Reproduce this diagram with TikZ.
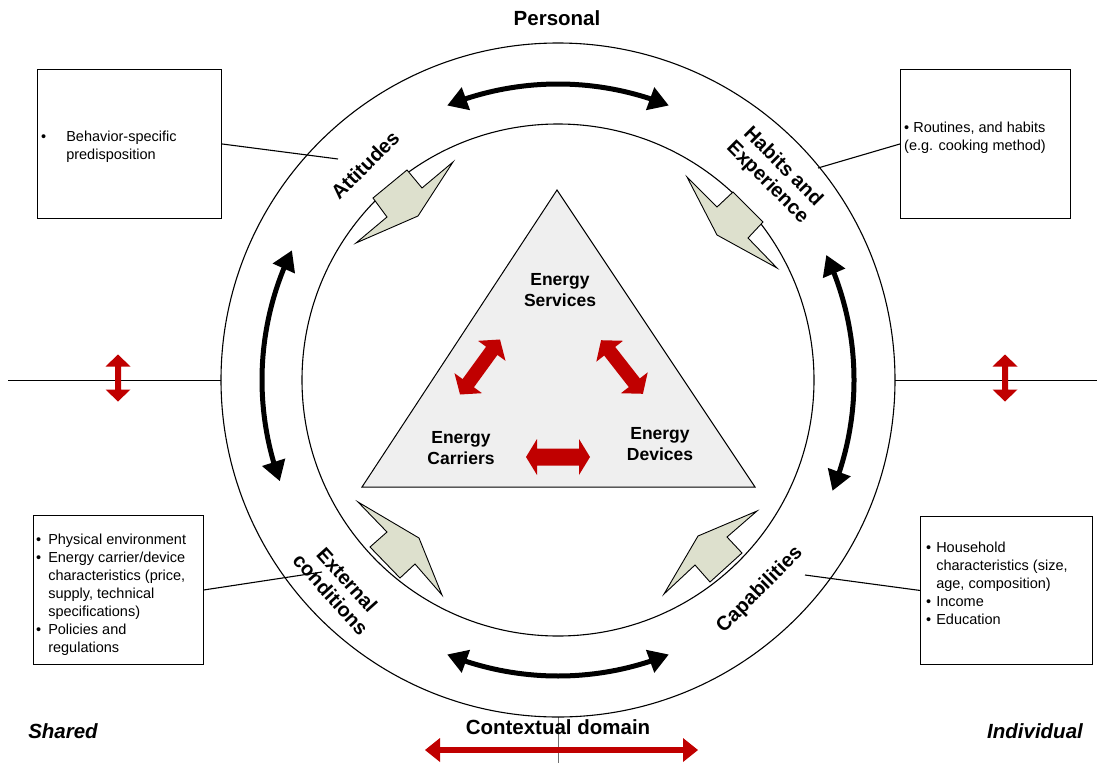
\documentclass[tikz,border=0pt]{standalone}
\usepackage{fontspec}
\setmainfont{Liberation Sans}
\usetikzlibrary{arrows.meta,bending}

\definecolor{arrowred}{HTML}{C00000}
\definecolor{boltfill}{HTML}{DDE0CD}
\definecolor{trifill}{HTML}{EFEFEF}
\definecolor{axisgray}{HTML}{707070}

% block double arrow: position, angle, half length, half shaft, half head, head length
\newcommand\redarrow[6]{%
  \begin{scope}[shift={#1}, rotate=#2]
    \fill[arrowred] (-#3,0) -- (-#3+#6,#5) -- (-#3+#6,#4) -- (#3-#6,#4) -- (#3-#6,#5)
      -- (#3,0) -- (#3-#6,-#5) -- (#3-#6,-#4) -- (-#3+#6,-#4) -- (-#3+#6,-#5) -- cycle;
  \end{scope}}

\begin{document}
\begin{tikzpicture}[x=1pt,y=-1pt,
  box/.style={draw, line width=0.9pt, inner sep=0pt, anchor=north west},
  listtext/.style={anchor=north west, inner sep=0pt, font=\fontsize{14.5}{18}\selectfont, align=left},
  ringlabel/.style={font=\bfseries\fontsize{20}{22}\selectfont, align=center, inner sep=0pt},
  corelabel/.style={font=\bfseries\fontsize{17.5}{21}\selectfont, align=center, inner sep=0pt},
  biglabel/.style={font=\bfseries\fontsize{20.5}{24}\selectfont, inner sep=0pt},
  bolt/.style={fill=boltfill, draw, line width=0.9pt, line join=miter},
  cyclearrow/.style={line width=5pt, {Triangle[length=20pt,width=23pt]}-{Triangle[length=20pt,width=23pt]}},
  ring/.style={draw, line width=1.1pt},
  leader/.style={line width=1.1pt},
  axis/.style={line width=1pt}
]
\useasboundingbox (0,0) rectangle (1097,763);
\coordinate (C) at (558,380);

% horizontal and vertical axis lines
\coordinate (westend) at (8,380);
\coordinate (ringW) at (221,380);
\coordinate (ringE) at (895,380);
\coordinate (eastend) at (1097,380);
\coordinate (ringS) at (558,717);
\coordinate (southend) at (558,763);
\draw[axis] (westend) -- (ringW);
\draw[axis] (ringE) -- (eastend);
\draw[axis, axisgray] (ringS) -- (southend);

% the two rings
\draw[ring] (C) circle[radius=337];
\draw[ring] (C) circle[radius=256];

% central triangle
\coordinate (apex) at (557,190);
\coordinate (baseL) at (362,487);
\coordinate (baseR) at (755,487);
\draw[fill=trifill, line width=1pt] (apex) -- (baseR) -- (baseL) -- cycle;

\node[corelabel] (services) at (560,290) {Energy\\Services};
\node[corelabel] (carriers) at (461,448) {Energy\\Carriers};
\node[corelabel] (devices) at (660,444) {Energy\\Devices};

% red interaction arrows
\redarrow{(480,367)}{54}{34}{7}{17}{14}
\redarrow{(622,367)}{-52}{34}{7}{17}{14}
\redarrow{(558,457)}{0}{32}{8.5}{18}{11}
\redarrow{(118,378)}{90}{23.5}{3}{12.5}{12}
\redarrow{(1005,378)}{90}{23.5}{3}{12.5}{12}
\redarrow{(561.5,750)}{0}{136.5}{2.8}{12}{15}

% black cycle arrows in the ring
\draw[cyclearrow] ([shift={(-112:296)}]C) arc[start angle=-112, end angle=-68, radius=296];
\draw[cyclearrow] ([shift={(-154:296)}]C) arc[start angle=-154, end angle=-200, radius=296];
\draw[cyclearrow] ([shift={(-25:296)}]C) arc[start angle=-25, end angle=22, radius=296];
\draw[cyclearrow] ([shift={(112:296)}]C) arc[start angle=112, end angle=68, radius=296];

% lightning arrows pointing inward
\draw[bolt] (356,243) -- (387,217) -- (373,198) -- (407,170) -- (422,188) -- (453,162) -- (418,216) -- cycle;
\draw[bolt] (687,177) -- (717,207) -- (733,192) -- (763,222) -- (748,238) -- (777,268) -- (717,235) -- cycle;
\draw[bolt] (358,502) -- (387,532) -- (370,547) -- (400,578) -- (415,564) -- (442,595) -- (419,538) -- cycle;
\draw[bolt] (757,511) -- (727,537) -- (742,553) -- (710,582) -- (695,565) -- (664,594) -- (698,536) -- cycle;

% ring labels
\node[ringlabel, rotate=45] (attitudes) at (365,165) {Attitudes};
\node[ringlabel, rotate=-45] (habits) at (775,175) {Habits and\\Experience};
\node[ringlabel, rotate=-48] (external) at (339,587) {External\\conditions};
\node[ringlabel, rotate=45] (capabilities) at (760,590) {Capabilities};

% outer labels
\node[biglabel] (personal) at (557,18) {Personal};
\node[biglabel] (context) at (558,727) {Contextual domain};
\node[biglabel, font=\bfseries\itshape\fontsize{20.5}{24}\selectfont] (shared) at (63,731) {Shared};
\node[biglabel, font=\bfseries\itshape\fontsize{20.5}{24}\selectfont] (individual) at (1035,731) {Individual};

% description boxes
\node[box, minimum width=184, minimum height=149] (attbox) at (37,69) {};
\node[box, minimum width=170, minimum height=149] (habbox) at (900,69) {};
\node[box, minimum width=170, minimum height=149] (extbox) at (33,515) {};
\node[box, minimum width=172, minimum height=148] (capbox) at (920,516) {};

\node[listtext] (atttext) at (41,129) {\begin{tabular}{@{}l@{\hspace{20pt}}l@{}}\textbullet & Behavior-specific\\ & predisposition\end{tabular}};
\node[listtext] (habtext) at (904,120) {\begin{tabular}{@{}l@{}}\textbullet\ Routines, and habits\\(e.g. cooking method)\end{tabular}};
\node[listtext] (exttext) at (36,532) {\begin{tabular}{@{}l@{\hspace{7pt}}l@{}}\textbullet & Physical environment\\
\textbullet & Energy carrier/device\\ & characteristics (price,\\ & supply, technical\\ & specifications)\\
\textbullet & Policies and\\ & regulations\end{tabular}};
\node[listtext] (captext) at (926,540) {\begin{tabular}{@{}l@{\hspace{5pt}}l@{}}\textbullet & Household\\ & characteristics (size,\\ & age, composition)\\
\textbullet & Income\\ \textbullet & Education\end{tabular}};

% leader lines from boxes into the ring
\coordinate (attend) at (338,159);
\coordinate (habend) at (818,168);
\coordinate (extend) at (322,572);
\coordinate (capend) at (805,575);
\draw[leader] (attbox.east) -- (attend);
\draw[leader] (habbox.west) -- (habend);
\draw[leader] (extbox.east) -- (extend);
\draw[leader] (capbox.west) -- (capend);
\end{tikzpicture}
\end{document}
